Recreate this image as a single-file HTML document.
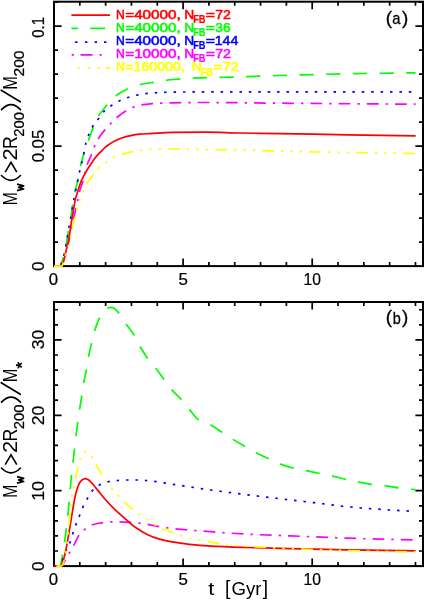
<!DOCTYPE html>
<html><head><meta charset="utf-8"><title>chart</title>
<style>
html,body{margin:0;padding:0;background:#fff}
svg{display:block;will-change:transform}
text{font-family:"Liberation Sans",sans-serif}
</style></head>
<body>
<svg width="425" height="600" viewBox="0 0 425 600">
<rect width="425" height="600" fill="#fff"/>
<rect x="54.0" y="1.7" width="369.0" height="264.40000000000003" fill="none" stroke="#000" stroke-width="2"/>
<path d="M54.00,266.1v-7.6M54.00,1.7v7.6M79.82,266.1v-4M79.82,1.7v4M105.64,266.1v-4M105.64,1.7v4M131.46,266.1v-4M131.46,1.7v4M157.28,266.1v-4M157.28,1.7v4M183.10,266.1v-7.6M183.10,1.7v7.6M208.92,266.1v-4M208.92,1.7v4M234.74,266.1v-4M234.74,1.7v4M260.56,266.1v-4M260.56,1.7v4M286.38,266.1v-4M286.38,1.7v4M312.20,266.1v-7.6M312.20,1.7v7.6M338.02,266.1v-4M338.02,1.7v4M363.84,266.1v-4M363.84,1.7v4M389.66,266.1v-4M389.66,1.7v4M415.48,266.1v-4M415.48,1.7v4M54.0,146.10h7.6M423.0,146.10h-7.6M54.0,26.10h7.6M423.0,26.10h-7.6M54.0,242.10h4M423.0,242.10h-4M54.0,218.10h4M423.0,218.10h-4M54.0,194.10h4M423.0,194.10h-4M54.0,170.10h4M423.0,170.10h-4M54.0,122.10h4M423.0,122.10h-4M54.0,98.10h4M423.0,98.10h-4M54.0,74.10h4M423.0,74.10h-4M54.0,50.10h4M423.0,50.10h-4M54.0,2.10h4M423.0,2.10h-4" stroke="#000" stroke-width="1.7" fill="none"/>
<rect x="54.0" y="302.0" width="369.0" height="264.1" fill="none" stroke="#000" stroke-width="2"/>
<path d="M54.00,566.1v-7.6M54.00,302.0v7.6M79.82,566.1v-4M79.82,302.0v4M105.64,566.1v-4M105.64,302.0v4M131.46,566.1v-4M131.46,302.0v4M157.28,566.1v-4M157.28,302.0v4M183.10,566.1v-7.6M183.10,302.0v7.6M208.92,566.1v-4M208.92,302.0v4M234.74,566.1v-4M234.74,302.0v4M260.56,566.1v-4M260.56,302.0v4M286.38,566.1v-4M286.38,302.0v4M312.20,566.1v-7.6M312.20,302.0v7.6M338.02,566.1v-4M338.02,302.0v4M363.84,566.1v-4M363.84,302.0v4M389.66,566.1v-4M389.66,302.0v4M415.48,566.1v-4M415.48,302.0v4M54.0,490.70h7.6M423.0,490.70h-7.6M54.0,415.30h7.6M423.0,415.30h-7.6M54.0,339.90h7.6M423.0,339.90h-7.6M54.0,551.02h4M423.0,551.02h-4M54.0,535.94h4M423.0,535.94h-4M54.0,520.86h4M423.0,520.86h-4M54.0,505.78h4M423.0,505.78h-4M54.0,475.62h4M423.0,475.62h-4M54.0,460.54h4M423.0,460.54h-4M54.0,445.46h4M423.0,445.46h-4M54.0,430.38h4M423.0,430.38h-4M54.0,400.22h4M423.0,400.22h-4M54.0,385.14h4M423.0,385.14h-4M54.0,370.06h4M423.0,370.06h-4M54.0,354.98h4M423.0,354.98h-4M54.0,324.82h4M423.0,324.82h-4M54.0,309.74h4M423.0,309.74h-4" stroke="#000" stroke-width="1.7" fill="none"/>
<path d="M54.00,266.10C56.00,266.10 58.00,266.10 60.00,266.10C60.43,266.10 60.87,264.54 61.30,263.50C62.23,261.25 63.17,258.13 64.10,254.40C64.80,251.60 65.50,247.53 66.20,243.80C66.70,241.14 67.20,238.43 67.70,235.40C68.17,232.58 68.63,228.86 69.10,226.20C69.67,222.97 70.23,220.93 70.80,217.70C71.30,214.85 71.80,211.11 72.30,207.80C72.97,203.38 73.63,197.88 74.30,194.50C75.37,189.09 76.43,186.79 77.50,181.80C78.30,178.06 79.10,171.96 79.90,168.40C81.33,162.01 82.77,157.61 84.20,153.00C86.53,145.50 88.87,138.92 91.20,132.90C93.53,126.88 95.87,120.48 98.20,116.50C100.57,112.47 102.93,109.89 105.30,107.00C108.43,103.17 111.57,98.98 114.70,96.50C118.63,93.39 122.57,91.19 126.50,89.40C130.80,87.44 135.10,85.67 139.40,84.70C145.10,83.42 150.80,82.88 156.50,82.00C162.00,81.15 167.50,79.97 173.00,79.50C183.97,78.57 194.93,78.07 205.90,77.70C216.87,77.33 227.83,77.21 238.80,76.90C252.53,76.51 266.27,75.90 280.00,75.50C302.67,74.84 325.33,74.22 348.00,73.80C370.53,73.38 393.07,73.13 415.60,72.80" fill="none" stroke="#00ff00" stroke-width="1.7" stroke-dasharray="14.2 12.5" stroke-dashoffset="-1.4"/>
<path d="M54.00,266.10C56.00,266.10 58.00,266.10 60.00,266.10C60.43,266.10 60.87,264.54 61.30,263.50C62.23,261.25 63.17,258.13 64.10,254.40C64.80,251.60 65.50,247.53 66.20,243.80C66.70,241.14 67.20,238.43 67.70,235.40C68.17,232.58 68.63,228.86 69.10,226.20C69.67,222.97 70.23,220.92 70.80,217.70C71.30,214.86 71.80,210.87 72.30,207.90C72.87,204.54 73.43,201.68 74.00,198.70C74.60,195.54 75.20,192.46 75.80,189.50C76.47,186.22 77.13,183.13 77.80,180.00C78.43,177.03 79.07,174.01 79.70,171.20C80.40,168.10 81.10,165.36 81.80,162.30C82.50,159.24 83.20,156.05 83.90,152.80C84.60,149.55 85.30,145.20 86.00,142.80C88.13,135.47 90.27,130.75 92.40,127.00C94.50,123.31 96.60,121.17 98.70,118.40C100.73,115.72 102.77,112.55 104.80,110.60C107.17,108.33 109.53,106.75 111.90,105.20C114.63,103.41 117.37,101.75 120.10,100.50C123.00,99.17 125.90,98.09 128.80,97.20C131.93,96.24 135.07,95.39 138.20,94.80C141.33,94.21 144.47,93.71 147.60,93.40C151.73,92.99 155.87,92.66 160.00,92.50C166.67,92.24 173.33,92.01 180.00,92.00C258.53,91.83 337.07,91.87 415.60,91.80" fill="none" stroke="#0000ff" stroke-width="1.7" stroke-dasharray="2.5 6.91" stroke-dashoffset="1.9"/>
<path d="M54.00,266.10C56.33,266.10 58.67,266.10 61.00,266.10C61.67,266.10 62.33,264.37 63.00,263.00C64.80,259.30 66.60,250.37 68.40,243.00C70.73,233.44 73.07,221.11 75.40,210.60C76.20,207.00 77.00,203.66 77.80,200.00C78.43,197.10 79.07,193.35 79.70,191.00C80.73,187.16 81.77,185.21 82.80,181.80C83.63,179.05 84.47,175.84 85.30,172.60C86.00,169.88 86.70,166.10 87.40,164.00C88.73,160.01 90.07,158.31 91.40,155.00C92.50,152.27 93.60,148.34 94.70,145.90C96.67,141.53 98.63,138.19 100.60,135.30C102.17,133.00 103.73,131.23 105.30,129.40C107.27,127.10 109.23,124.97 111.20,123.00C113.53,120.66 115.87,118.39 118.20,116.50C120.97,114.26 123.73,112.22 126.50,110.60C128.83,109.24 131.17,107.90 133.50,107.10C136.63,106.02 139.77,105.22 142.90,104.70C145.27,104.31 147.63,104.02 150.00,103.80C152.33,103.59 154.67,103.41 157.00,103.30C162.33,103.06 167.67,102.88 173.00,102.80C184.00,102.63 195.00,102.50 206.00,102.50C230.67,102.50 255.33,102.99 280.00,103.20C325.20,103.58 370.40,103.87 415.60,104.20" fill="none" stroke="#ff00ff" stroke-width="1.7" stroke-dasharray="11.8 7 2.4 7" stroke-dashoffset="1.0"/>
<path d="M54.00,266.10C56.33,266.10 58.67,266.10 61.00,266.10C61.50,266.10 62.00,265.29 62.50,264.50C63.03,263.65 63.57,261.35 64.10,259.40C64.80,256.84 65.50,253.27 66.20,250.20C67.17,245.97 68.13,242.68 69.10,237.50C69.80,233.75 70.50,227.80 71.20,223.40C71.90,219.00 72.60,215.00 73.30,211.00C74.00,207.00 74.70,202.36 75.40,199.40C76.33,195.46 77.27,192.90 78.20,190.00C79.33,186.48 80.47,182.84 81.60,180.20C82.83,177.33 84.07,175.21 85.30,173.00C86.20,171.39 87.10,169.92 88.00,168.50C89.00,166.92 90.00,165.52 91.00,164.00C92.03,162.43 93.07,160.59 94.10,159.20C95.40,157.45 96.70,156.00 98.00,154.60C99.07,153.45 100.13,152.49 101.20,151.40C102.13,150.45 103.07,149.37 104.00,148.50C105.40,147.20 106.80,146.00 108.20,145.00C110.57,143.32 112.93,141.85 115.30,140.70C117.67,139.55 120.03,138.57 122.40,137.80C124.73,137.04 127.07,136.38 129.40,135.90C132.93,135.17 136.47,134.51 140.00,134.20C143.33,133.91 146.67,133.79 150.00,133.60C157.67,133.15 165.33,132.35 173.00,132.30C184.00,132.23 195.00,132.20 206.00,132.20C217.00,132.20 228.00,132.80 239.00,133.00C252.67,133.25 266.33,133.38 280.00,133.60C302.67,133.96 325.33,134.42 348.00,134.80C370.53,135.18 393.07,135.53 415.60,135.90" fill="none" stroke="#ff0000" stroke-width="1.7"/>
<path d="M54.00,266.10C56.67,266.10 59.33,266.10 62.00,266.10C62.50,266.10 63.00,263.53 63.50,262.00C64.17,259.97 64.83,257.20 65.50,255.00C66.47,251.81 67.43,249.42 68.40,246.00C69.10,243.52 69.80,240.55 70.50,237.50C71.20,234.45 71.90,230.78 72.60,227.60C73.30,224.42 74.00,221.40 74.70,218.40C75.40,215.40 76.10,212.09 76.80,209.60C77.77,206.17 78.73,203.59 79.70,200.80C80.77,197.72 81.83,194.57 82.90,192.00C84.17,188.95 85.43,186.10 86.70,183.90C88.60,180.59 90.50,178.21 92.40,175.70C94.40,173.06 96.40,170.30 98.40,168.40C100.87,166.05 103.33,164.60 105.80,162.70C108.00,161.00 110.20,158.65 112.40,157.60C116.70,155.54 121.00,154.46 125.30,153.40C130.00,152.24 134.70,151.32 139.40,150.60C142.53,150.12 145.67,149.53 148.80,149.40C151.37,149.29 153.93,149.24 156.50,149.20C162.00,149.10 167.50,149.00 173.00,149.00C184.00,149.00 195.00,149.47 206.00,149.60C217.00,149.73 228.00,149.75 239.00,149.90C252.67,150.09 266.33,150.88 280.00,151.20C325.20,152.26 370.40,152.73 415.60,153.50" fill="none" stroke="#ffff00" stroke-width="1.7" stroke-dasharray="11.8 7 2.4 7 2.4 7 2.4 7" stroke-dashoffset="0"/>
<path d="M54.00,566.10C55.83,566.10 57.67,566.10 59.50,566.10C59.83,566.10 60.17,565.75 60.50,565.30C60.83,564.85 61.17,562.72 61.50,561.00C62.00,558.42 62.50,554.13 63.00,551.00C63.57,547.45 64.13,544.67 64.70,541.00C65.30,537.11 65.90,532.89 66.50,528.00C66.93,524.47 67.37,520.32 67.80,516.00C68.20,512.01 68.60,507.38 69.00,503.00C69.40,498.62 69.80,494.17 70.20,489.70C70.60,485.23 71.00,480.14 71.40,476.20C71.90,471.28 72.40,467.57 72.90,463.20C73.43,458.54 73.97,453.85 74.50,449.10C74.97,444.94 75.43,440.31 75.90,436.50C76.53,431.32 77.17,427.08 77.80,422.40C78.33,418.45 78.87,414.21 79.40,410.60C79.97,406.77 80.53,403.63 81.10,400.00C81.93,394.67 82.77,388.18 83.60,383.50C84.57,378.07 85.53,374.80 86.50,369.40C87.13,365.86 87.77,360.56 88.40,357.20C89.47,351.54 90.53,347.59 91.60,343.10C92.63,338.75 93.67,333.91 94.70,330.60C96.43,325.05 98.17,320.47 99.90,317.20C101.27,314.62 102.63,312.50 104.00,311.00C105.07,309.83 106.13,308.64 107.20,308.20C108.30,307.74 109.40,307.30 110.50,307.30C111.50,307.30 112.50,307.65 113.50,308.00C115.23,308.62 116.97,310.92 118.70,312.90C121.07,315.60 123.43,320.07 125.80,323.50C128.60,327.56 131.40,330.74 134.20,335.30C136.17,338.50 138.13,343.09 140.10,346.50C142.60,350.84 145.10,354.95 147.60,358.40C150.37,362.22 153.13,364.96 155.90,368.50C158.60,371.95 161.30,375.76 164.00,379.40C166.37,382.59 168.73,386.20 171.10,389.00C174.60,393.15 178.10,395.96 181.60,399.90C184.20,402.83 186.80,406.37 189.40,409.40C192.57,413.09 195.73,418.05 198.90,420.00C202.57,422.26 206.23,422.76 209.90,424.60C214.00,426.66 218.10,429.75 222.20,432.40C225.73,434.69 229.27,437.23 232.80,439.40C236.93,441.94 241.07,444.09 245.20,446.50C248.73,448.56 252.27,450.96 255.80,452.80C260.13,455.06 264.47,456.82 268.80,458.80C272.70,460.58 276.60,462.65 280.50,464.10C284.87,465.72 289.23,467.14 293.60,468.20C298.17,469.31 302.73,469.98 307.30,470.90C311.83,471.81 316.37,472.78 320.90,473.70C324.90,474.51 328.90,475.21 332.90,476.10C337.43,477.11 341.97,478.49 346.50,479.50C350.50,480.39 354.50,481.10 358.50,481.90C363.03,482.80 367.57,484.07 372.10,484.60C376.07,485.06 380.03,485.17 384.00,485.60C389.13,486.15 394.27,487.36 399.40,488.00C404.80,488.68 410.20,489.13 415.60,489.70" fill="none" stroke="#00ff00" stroke-width="1.7" stroke-dasharray="14.2 12.5" stroke-dashoffset="-3.5"/>
<path d="M54.00,566.10C55.67,566.10 57.33,566.10 59.00,566.10C59.67,566.10 60.33,564.23 61.00,563.00C62.00,561.16 63.00,558.33 64.00,556.00C65.00,553.67 66.00,551.26 67.00,549.00C68.00,546.74 69.00,544.99 70.00,542.40C70.93,539.98 71.87,536.40 72.80,533.60C73.83,530.50 74.87,527.46 75.90,524.70C77.07,521.59 78.23,518.93 79.40,516.00C80.57,513.07 81.73,509.67 82.90,507.10C84.33,503.94 85.77,501.30 87.20,498.80C88.93,495.78 90.67,492.47 92.40,490.60C94.73,488.08 97.07,486.24 99.40,485.00C102.13,483.55 104.87,482.35 107.60,481.80C110.90,481.14 114.20,480.74 117.50,480.50C120.73,480.26 123.97,480.00 127.20,480.00C130.33,480.00 133.47,480.00 136.60,480.00C139.73,480.00 142.87,480.27 146.00,480.50C155.77,481.20 165.53,483.27 175.30,484.70C187.07,486.42 198.83,488.36 210.60,490.00C222.37,491.64 234.13,493.12 245.90,494.60C259.43,496.30 272.97,497.90 286.50,499.50C295.70,500.59 304.90,501.61 314.10,502.70C325.47,504.04 336.83,505.72 348.20,506.80C359.60,507.89 371.00,508.72 382.40,509.50C393.47,510.26 404.53,510.83 415.60,511.50" fill="none" stroke="#0000ff" stroke-width="1.7" stroke-dasharray="2.5 6.91" stroke-dashoffset="-1.9"/>
<path d="M54.00,566.10C56.00,566.10 58.00,566.10 60.00,566.10C60.60,566.10 61.20,565.81 61.80,565.50C62.97,564.90 64.13,561.92 65.30,560.00C66.87,557.42 68.43,554.48 70.00,551.80C71.17,549.80 72.33,547.94 73.50,545.90C75.87,541.77 78.23,535.50 80.60,532.90C82.57,530.74 84.53,529.54 86.50,528.20C88.47,526.86 90.43,525.28 92.40,524.70C96.70,523.44 101.00,522.82 105.30,522.40C107.67,522.17 110.03,521.90 112.40,521.90C114.33,521.90 116.27,521.90 118.20,521.90C122.53,521.90 126.87,522.16 131.20,522.40C133.93,522.55 136.67,522.80 139.40,523.10C141.37,523.32 143.33,523.67 145.30,524.00C149.40,524.69 153.50,525.74 157.60,526.40C163.50,527.35 169.40,528.18 175.30,528.80C187.07,530.04 198.83,530.82 210.60,531.70C222.37,532.58 234.13,533.49 245.90,534.10C260.60,534.86 275.30,535.33 290.00,535.90C298.03,536.21 306.07,536.49 314.10,536.80C325.47,537.24 336.83,537.81 348.20,538.20C359.60,538.59 371.00,538.90 382.40,539.20C393.47,539.49 404.53,539.73 415.60,540.00" fill="none" stroke="#ff00ff" stroke-width="1.7" stroke-dasharray="11.8 7 2.4 7" stroke-dashoffset="-2.8"/>
<path d="M54.00,566.10C56.07,566.10 58.13,566.10 60.20,566.10C60.53,566.10 60.87,565.68 61.20,565.30C62.37,563.98 63.53,559.60 64.70,555.30C65.73,551.49 66.77,545.17 67.80,539.50C69.00,532.91 70.20,525.08 71.40,518.00C72.60,510.92 73.80,502.34 75.00,497.00C75.77,493.59 76.53,490.77 77.30,488.50C78.07,486.23 78.83,484.02 79.60,482.80C80.40,481.53 81.20,480.51 82.00,480.00C83.10,479.30 84.20,478.60 85.30,478.60C86.20,478.60 87.10,479.07 88.00,479.50C89.07,480.01 90.13,481.32 91.20,482.40C93.17,484.39 95.13,487.03 97.10,489.40C99.83,492.70 102.57,496.39 105.30,499.50C108.43,503.06 111.57,506.38 114.70,509.40C118.23,512.81 121.77,515.73 125.30,518.80C128.63,521.69 131.97,524.94 135.30,527.30C139.23,530.08 143.17,532.55 147.10,534.40C151.00,536.23 154.90,537.78 158.80,538.90C162.73,540.03 166.67,540.88 170.60,541.60C174.53,542.32 178.47,542.87 182.40,543.40C186.60,543.96 190.80,544.49 195.00,544.90C200.20,545.41 205.40,545.92 210.60,546.20C222.37,546.83 234.13,547.15 245.90,547.50C260.60,547.94 275.30,548.27 290.00,548.60C309.40,549.04 328.80,549.46 348.20,549.80C370.67,550.19 393.13,550.47 415.60,550.80" fill="none" stroke="#ff0000" stroke-width="1.7"/>
<path d="M54.00,566.10C56.33,566.10 58.67,566.10 61.00,566.10C61.50,566.10 62.00,565.57 62.50,565.00C63.40,563.98 64.30,560.15 65.20,556.00C66.20,551.39 67.20,541.58 68.20,533.00C69.40,522.70 70.60,505.93 71.80,497.60C72.50,492.74 73.20,489.53 73.90,485.90C74.47,482.96 75.03,480.18 75.60,477.60C76.47,473.65 77.33,470.03 78.20,466.60C78.83,464.09 79.47,461.22 80.10,459.50C81.07,456.87 82.03,454.60 83.00,453.50C83.93,452.44 84.87,451.30 85.80,451.30C86.87,451.30 87.93,452.16 89.00,453.00C89.97,453.76 90.93,455.65 91.90,457.20C93.40,459.60 94.90,462.75 96.40,465.40C98.33,468.81 100.27,472.21 102.20,475.30C103.77,477.81 105.33,480.23 106.90,482.40C108.73,484.94 110.57,487.29 112.40,489.40C114.50,491.82 116.60,493.82 118.70,496.00C120.90,498.29 123.10,500.69 125.30,502.80C128.03,505.42 130.77,507.98 133.50,510.10C135.87,511.93 138.23,513.37 140.60,515.00C142.93,516.61 145.27,518.23 147.60,519.80C150.93,522.04 154.27,524.75 157.60,526.40C161.13,528.15 164.67,529.24 168.20,530.60C172.93,532.42 177.67,534.49 182.40,535.90C187.10,537.30 191.80,538.36 196.50,539.40C201.20,540.44 205.90,541.42 210.60,542.20C216.47,543.18 222.33,544.10 228.20,544.70C234.10,545.30 240.00,545.69 245.90,546.10C251.77,546.51 257.63,546.86 263.50,547.20C272.33,547.71 281.17,548.22 290.00,548.60C309.33,549.43 328.67,550.10 348.00,550.60C370.53,551.19 393.07,551.53 415.60,552.00" fill="none" stroke="#ffff00" stroke-width="1.7" stroke-dasharray="11.8 7 2.4 7 2.4 7 2.4 7" stroke-dashoffset="-2.4"/>
<text transform="translate(116.00,18.70) scale(0.9085,1)" font-size="13.4" fill="#ff0000" stroke="#ff0000" stroke-width="0.55">N</text>
<text transform="translate(125.26,18.70) scale(1.1373,1)" font-size="13.4" fill="#ff0000" stroke="#ff0000" stroke-width="0.55">=40000,</text>
<text transform="translate(184.27,18.70) scale(1.0287,1)" font-size="13.4" fill="#ff0000" stroke="#ff0000" stroke-width="0.55">N</text>
<text transform="translate(193.18,23.10) scale(0.8987,1)" font-size="10.3" font-weight="bold" fill="#ff0000" stroke="#ff0000" stroke-width="0.2">FB</text>
<text transform="translate(205.63,18.70) scale(1.1827,1)" font-size="13.4" fill="#ff0000" stroke="#ff0000" stroke-width="0.55">=</text>
<text transform="translate(215.17,18.70) scale(1.0558,1)" font-size="13.4" fill="#ff0000" stroke="#ff0000" stroke-width="0.55">72</text>
<text transform="translate(116.00,31.80) scale(0.9085,1)" font-size="13.4" fill="#00ff00" stroke="#00ff00" stroke-width="0.55">N</text>
<text transform="translate(125.26,31.80) scale(1.1373,1)" font-size="13.4" fill="#00ff00" stroke="#00ff00" stroke-width="0.55">=40000,</text>
<text transform="translate(184.27,31.80) scale(1.0287,1)" font-size="13.4" fill="#00ff00" stroke="#00ff00" stroke-width="0.55">N</text>
<text transform="translate(193.18,36.20) scale(0.8987,1)" font-size="10.3" font-weight="bold" fill="#00ff00" stroke="#00ff00" stroke-width="0.2">FB</text>
<text transform="translate(205.63,31.80) scale(1.1827,1)" font-size="13.4" fill="#00ff00" stroke="#00ff00" stroke-width="0.55">=</text>
<text transform="translate(215.37,31.80) scale(1.0358,1)" font-size="13.4" fill="#00ff00" stroke="#00ff00" stroke-width="0.55">36</text>
<text transform="translate(116.00,45.00) scale(0.9085,1)" font-size="13.4" fill="#0000ff" stroke="#0000ff" stroke-width="0.55">N</text>
<text transform="translate(125.26,45.00) scale(1.1373,1)" font-size="13.4" fill="#0000ff" stroke="#0000ff" stroke-width="0.55">=40000,</text>
<text transform="translate(184.27,45.00) scale(1.0287,1)" font-size="13.4" fill="#0000ff" stroke="#0000ff" stroke-width="0.55">N</text>
<text transform="translate(193.18,49.40) scale(0.8987,1)" font-size="10.3" font-weight="bold" fill="#0000ff" stroke="#0000ff" stroke-width="0.2">FB</text>
<text transform="translate(205.63,45.00) scale(1.1827,1)" font-size="13.4" fill="#0000ff" stroke="#0000ff" stroke-width="0.55">=</text>
<text transform="translate(214.83,45.00) scale(1.0456,1)" font-size="13.4" fill="#0000ff" stroke="#0000ff" stroke-width="0.55">144</text>
<text transform="translate(116.00,58.00) scale(0.9085,1)" font-size="13.4" fill="#ff00ff" stroke="#ff00ff" stroke-width="0.55">N</text>
<text transform="translate(125.26,58.00) scale(1.1373,1)" font-size="13.4" fill="#ff00ff" stroke="#ff00ff" stroke-width="0.55">=10000,</text>
<text transform="translate(184.27,58.00) scale(1.0287,1)" font-size="13.4" fill="#ff00ff" stroke="#ff00ff" stroke-width="0.55">N</text>
<text transform="translate(193.18,62.40) scale(0.8987,1)" font-size="10.3" font-weight="bold" fill="#ff00ff" stroke="#ff00ff" stroke-width="0.2">FB</text>
<text transform="translate(205.63,58.00) scale(1.1827,1)" font-size="13.4" fill="#ff00ff" stroke="#ff00ff" stroke-width="0.55">=</text>
<text transform="translate(215.17,58.00) scale(1.0558,1)" font-size="13.4" fill="#ff00ff" stroke="#ff00ff" stroke-width="0.55">72</text>
<text transform="translate(116.00,71.30) scale(0.9085,1)" font-size="13.4" fill="#ffff00" stroke="#ffff00" stroke-width="0.55">N</text>
<text transform="translate(125.31,71.30) scale(1.0569,1)" font-size="13.4" fill="#ffff00" stroke="#ffff00" stroke-width="0.55">=160000,</text>
<text transform="translate(191.77,71.30) scale(1.0287,1)" font-size="13.4" fill="#ffff00" stroke="#ffff00" stroke-width="0.55">N</text>
<text transform="translate(200.68,75.70) scale(0.8987,1)" font-size="10.3" font-weight="bold" fill="#ffff00" stroke="#ffff00" stroke-width="0.2">FB</text>
<text transform="translate(213.13,71.30) scale(1.1827,1)" font-size="13.4" fill="#ffff00" stroke="#ffff00" stroke-width="0.55">=</text>
<text transform="translate(222.67,71.30) scale(1.0632,1)" font-size="13.4" fill="#ffff00" stroke="#ffff00" stroke-width="0.55">72</text>
<path d="M71.4,15.2H109.9" stroke="#ff0000" stroke-width="1.75" fill="none"/>
<path d="M71.4,28.3H78.0M90.4,28.3H105.0" stroke="#00ff00" stroke-width="1.75" fill="none"/>
<path d="M75.1,42.0H77.5M85.0,42.0H87.4M94.6,42.0H97.0M104.0,42.0H106.4" stroke="#0000ff" stroke-width="1.75" fill="none"/>
<path d="M71.7,54.8H73.9M80.5,54.8H92.5M99.6,54.8H101.8" stroke="#ff00ff" stroke-width="1.75" fill="none"/>
<path d="M78.0,67.8H80.2M87.9,67.8H90.1M97.5,67.8H99.7M106.0,67.8H110.2" stroke="#ffff00" stroke-width="1.75" fill="none"/>
<text transform="translate(385.73,23.60) scale(1.0477,1)" font-size="18" fill="#000" stroke="#000" stroke-width="0.3">(</text>
<text transform="translate(392.37,24.00) scale(0.8703,1)" font-size="17" fill="#000" stroke="#000" stroke-width="0.3">a</text>
<text transform="translate(402.09,23.60) scale(1.0477,1)" font-size="18" fill="#000" stroke="#000" stroke-width="0.3">)</text>
<text transform="translate(385.73,323.00) scale(1.0477,1)" font-size="18" fill="#000" stroke="#000" stroke-width="0.3">(</text>
<text transform="translate(392.87,323.60) scale(0.8502,1)" font-size="17" fill="#000" stroke="#000" stroke-width="0.3">b</text>
<text transform="translate(401.89,323.00) scale(1.0477,1)" font-size="18" fill="#000" stroke="#000" stroke-width="0.3">)</text>
<text transform="translate(48.85,284.90) scale(1.0460,1)" font-size="16" fill="#000" stroke="#000" stroke-width="0.212">0</text>
<text transform="translate(178.52,284.90) scale(1.0546,1)" font-size="16" fill="#000" stroke="#000" stroke-width="0.212">5</text>
<text transform="translate(303.61,284.90) scale(0.9779,1)" font-size="16" fill="#000" stroke="#000" stroke-width="0.212">10</text>
<text transform="translate(48.85,584.90) scale(1.0460,1)" font-size="16" fill="#000" stroke="#000" stroke-width="0.212">0</text>
<text transform="translate(178.52,584.90) scale(1.0546,1)" font-size="16" fill="#000" stroke="#000" stroke-width="0.212">5</text>
<text transform="translate(303.61,584.90) scale(0.9779,1)" font-size="16" fill="#000" stroke="#000" stroke-width="0.212">10</text>
<text transform="translate(44.10,37.68) rotate(-90) scale(0.9311,1)" font-size="16" fill="#000" stroke="#000" stroke-width="0.212">0.1</text>
<text transform="translate(44.10,162.36) rotate(-90) scale(1.0488,1)" font-size="16" fill="#000" stroke="#000" stroke-width="0.212">0.05</text>
<text transform="translate(44.10,271.07) rotate(-90) scale(1.0721,1)" font-size="16" fill="#000" stroke="#000" stroke-width="0.212">0</text>
<text transform="translate(44.10,571.07) rotate(-90) scale(1.0721,1)" font-size="16" fill="#000" stroke="#000" stroke-width="0.212">0</text>
<text transform="translate(44.10,500.86) rotate(-90) scale(1.1158,1)" font-size="16" fill="#000" stroke="#000" stroke-width="0.212">10</text>
<text transform="translate(44.10,425.18) rotate(-90) scale(1.0998,1)" font-size="16" fill="#000" stroke="#000" stroke-width="0.212">20</text>
<text transform="translate(44.10,349.16) rotate(-90) scale(1.0868,1)" font-size="16" fill="#000" stroke="#000" stroke-width="0.212">30</text>
<text transform="translate(17.00,205.29) rotate(-90) scale(0.8008,1)" font-size="19.6" fill="#000" stroke="#000" stroke-width="0.0">M</text>
<path d="M17,190.7L23.6,189.0L18.6,187.4L23.6,185.8L17,184.1" stroke="#000" stroke-width="1.8" fill="none" stroke-linejoin="round"/>
<path d="M1.5,175.5Q11,185.2 20.5,175.5" stroke="#000" stroke-width="1.6" fill="none" stroke-linecap="round"/>
<path d="M5.2,172.2L11,162.4L16.8,172.2" stroke="#000" stroke-width="1.6" fill="none" stroke-linejoin="miter"/>
<text transform="translate(17.00,160.60) rotate(-90) scale(1.1199,1)" font-size="19.6" fill="#000" stroke="#000" stroke-width="0.0">2</text>
<text transform="translate(17.00,148.95) rotate(-90) scale(0.9023,1)" font-size="19.6" fill="#000" stroke="#000" stroke-width="0.0">R</text>
<text transform="translate(24.20,136.75) rotate(-90) scale(0.9664,1)" font-size="15.4" fill="#000" stroke="#000" stroke-width="0.265">200</text>
<path d="M1.5,109.6Q11,99.6 20.5,109.6" stroke="#000" stroke-width="1.6" fill="none" stroke-linecap="round"/>
<path d="M20.3,101.8L1.2,90.2" stroke="#000" stroke-width="1.6" stroke-linecap="round"/>
<text transform="translate(17.00,89.85) rotate(-90) scale(0.8390,1)" font-size="19.6" fill="#000" stroke="#000" stroke-width="0.0">M</text>
<text transform="translate(24.20,76.59) rotate(-90) scale(1.0198,1)" font-size="15.4" fill="#000" stroke="#000" stroke-width="0.265">200</text>
<text transform="translate(17.00,497.79) rotate(-90) scale(0.8008,1)" font-size="19.6" fill="#000" stroke="#000" stroke-width="0.0">M</text>
<path d="M17,483.2L23.6,481.5L18.6,479.9L23.6,478.3L17,476.6" stroke="#000" stroke-width="1.8" fill="none" stroke-linejoin="round"/>
<path d="M1.5,468.0Q11,477.7 20.5,468.0" stroke="#000" stroke-width="1.6" fill="none" stroke-linecap="round"/>
<path d="M5.2,464.7L11,454.9L16.8,464.7" stroke="#000" stroke-width="1.6" fill="none" stroke-linejoin="miter"/>
<text transform="translate(17.00,453.10) rotate(-90) scale(1.1199,1)" font-size="19.6" fill="#000" stroke="#000" stroke-width="0.0">2</text>
<text transform="translate(17.00,441.45) rotate(-90) scale(0.9023,1)" font-size="19.6" fill="#000" stroke="#000" stroke-width="0.0">R</text>
<text transform="translate(24.20,429.25) rotate(-90) scale(0.9664,1)" font-size="15.4" fill="#000" stroke="#000" stroke-width="0.265">200</text>
<path d="M1.5,402.1Q11,392.1 20.5,402.1" stroke="#000" stroke-width="1.6" fill="none" stroke-linecap="round"/>
<path d="M20.3,394.3L1.2,382.7" stroke="#000" stroke-width="1.6" stroke-linecap="round"/>
<text transform="translate(17.00,382.35) rotate(-90) scale(0.8390,1)" font-size="19.6" fill="#000" stroke="#000" stroke-width="0.0">M</text>
<text transform="translate(27.50,368.55) rotate(-90) scale(0.9925,1)" font-size="17" font-weight="bold" fill="#000" stroke="#000" stroke-width="0.124">*</text>
<text transform="translate(208.17,595.10) scale(1.1542,1)" font-size="19" fill="#000" stroke="#000" stroke-width="0.0">t</text>
<text transform="translate(225.04,594.50) scale(0.9105,1)" font-size="21" fill="#000" stroke="#000" stroke-width="0">[</text>
<text transform="translate(231.46,595.10) scale(0.9818,1)" font-size="19" fill="#000" stroke="#000" stroke-width="0.0">Gyr</text>
<text transform="translate(262.85,594.50) scale(0.9105,1)" font-size="21" fill="#000" stroke="#000" stroke-width="0">]</text>
</svg>
</body></html>
